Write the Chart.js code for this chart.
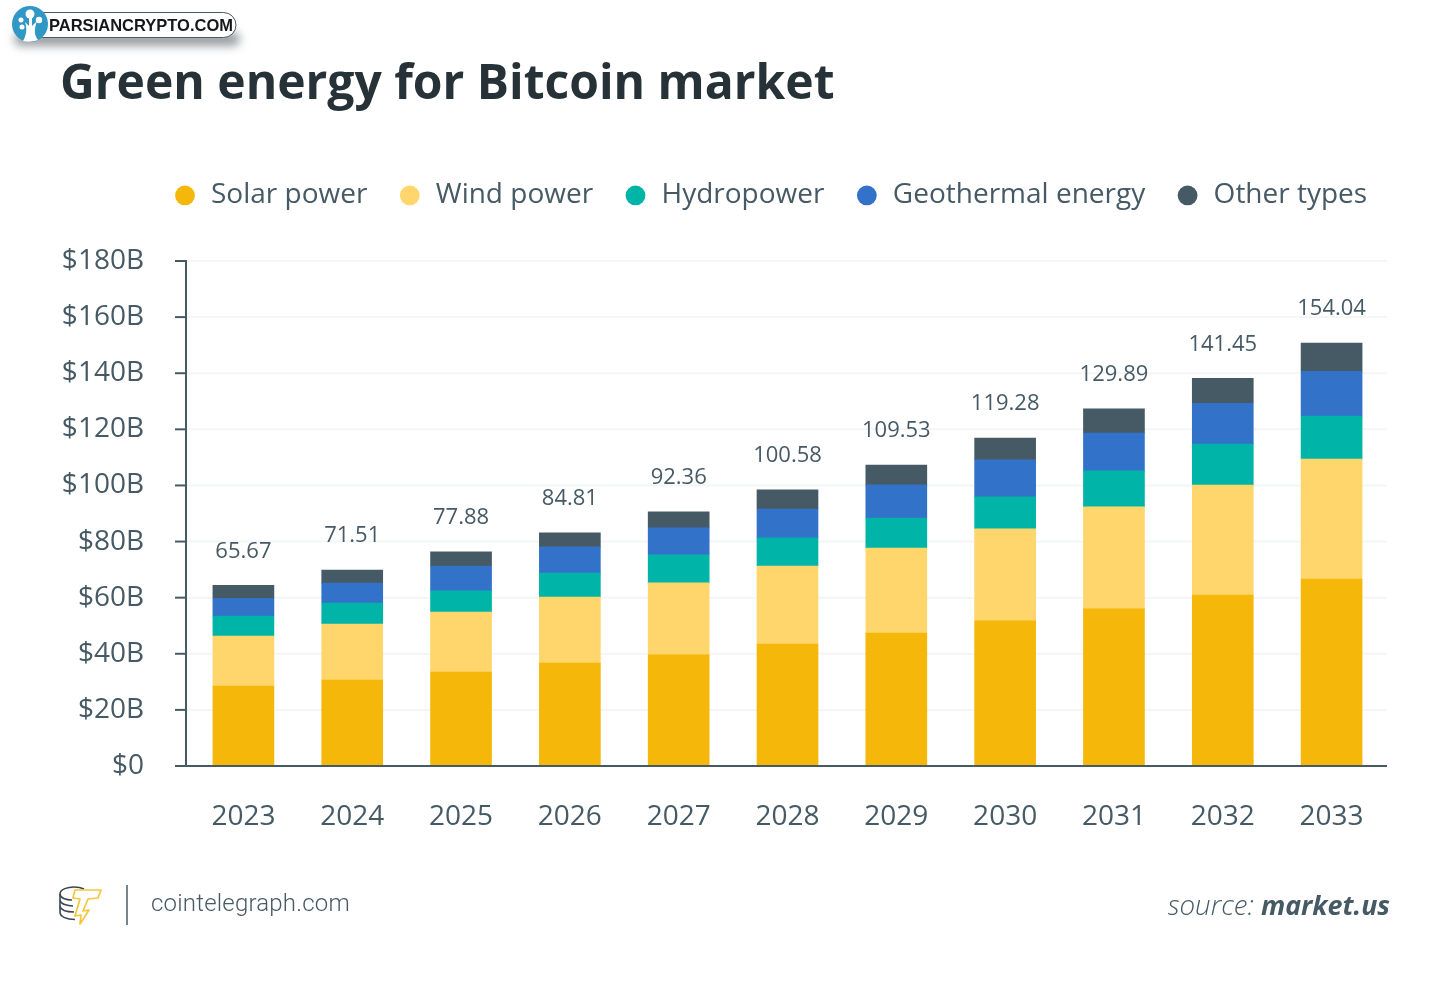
<!DOCTYPE html>
<html>
<head>
<meta charset="utf-8">
<title>Green energy for Bitcoin market</title>
<script src="https://cdn.jsdelivr.net/npm/chart.js@4/dist/chart.umd.min.js"></script>
<style>
  html, body { margin: 0; padding: 0; background: #fff; }
  #wrap { position: relative; width: 1450px; height: 985px; overflow: hidden; }
  #chart { position: absolute; left: 0; top: 0; }
  .note { position: absolute; white-space: nowrap; }
  #site { left: 151px; top: 889px; font: 300 24px Roboto, sans-serif; letter-spacing: 0.2px; color: #465a65; }
  #source { right: 60px; top: 885px; font: italic 300 27.7px "Open Sans", sans-serif; color: #465a65; }
  #source b { font-weight: 700; font-size: 26.8px; }
  #bar { position: absolute; left: 126px; top: 885px; width: 2px; height: 40px; background: #78858e; }
  svg { position: absolute; overflow: visible; }
</style>
</head>
<body>
<div id="wrap">
  <canvas id="chart" width="1450" height="985"></canvas>

  <!-- watermark at the top left -->
  <svg id="mark" style="left:0;top:0" width="250" height="60">
    <defs>
      <filter id="blur" x="-10%" y="-80%" width="120%" height="260%"><feGaussianBlur stdDeviation="5"/></filter>
    </defs>
    <rect x="14" y="32" width="226" height="14" rx="7" fill="#9a9ea2" filter="url(#blur)"/>
    <rect x="30" y="12.5" width="206" height="25" rx="12.5" fill="#fff" stroke="#4a5a66" stroke-width="1"/>
    <circle cx="30" cy="24" r="18" fill="#2f98c4"/>
    <path d="M23 41 C27 34 27 28 25 22 L29 26 L29 17 L32 17 L32 26 L37 21 C34 29 34 35 38 40 C33 42 27 42 23 41Z" fill="#fff"/>
    <circle cx="30" cy="14" r="4.5" fill="#fff"/>
    <circle cx="21" cy="20" r="2.5" fill="#fff"/>
    <circle cx="22" cy="27" r="2.5" fill="#fff"/>
    <circle cx="39" cy="20" r="3.2" fill="#fff"/>
    <text x="49" y="31" font-family="Liberation Sans" font-weight="700" font-size="16.5" textLength="184" lengthAdjust="spacingAndGlyphs" fill="#14181c">PARSIANCRYPTO.COM</text>
  </svg>

  <!-- cointelegraph footer -->
  <svg id="coins" style="left:58px;top:884px" width="48" height="44" fill="none">
    <g stroke="#3a4750" stroke-width="1.6">
      <path d="M2 10 C2 5 10 3 16 3 C20 3 24 4 26 5"/>
      <path d="M2 10 C2 14 8 16 14 16"/>
      <path d="M2 10 V28 C2 33 9 35.5 17 35.5"/>
      <path d="M2 16.5 C3 20 9 22 15 22"/>
      <path d="M2 22.5 C3 26 9 28 16 28"/>
    </g>
    <path d="M17 6 H43 L40 14 L30 15 L25 27 L31 26 L22 40 L23 31 L17 32 L22 15 L15 14Z" stroke="#f5c63c" stroke-width="1.7" stroke-linejoin="round" fill="#fff"/>
  </svg>
  <div id="bar"></div>
  <div id="site" class="note">cointelegraph.com</div>
  <div id="source" class="note">source: <b>market.us</b></div>
</div>

<script>
// Values, in $B
const years = ['2023', '2024', '2025', '2026', '2027', '2028', '2029', '2030', '2031', '2032', '2033'];
const solarPower = [28.5, 30.6, 33.5, 36.7, 39.6, 43.5, 47.4, 51.7, 56.0, 60.9, 66.6];
const windPower = [17.8, 20.0, 21.4, 23.5, 25.7, 27.8, 30.3, 32.8, 36.4, 39.2, 42.8];
const hydropower = [7.1, 7.5, 7.5, 8.6, 10.0, 10.0, 10.7, 11.4, 12.8, 14.6, 15.3];
const geothermal = [6.4, 7.1, 8.9, 9.3, 9.6, 10.3, 11.8, 13.2, 13.5, 14.6, 16.0];
const otherTypes = [4.6, 4.6, 5.0, 5.0, 5.7, 6.8, 7.1, 7.8, 8.6, 8.9, 10.0];
const totalLabels = ['65.67', '71.51', '77.88', '84.81', '92.36', '100.58', '109.53', '119.28', '129.89', '141.45', '154.04'];

const textColor = '#465a65';
const axisColor = '#465a65';
const gridColor = '#f4f5f5';
const fontName = '"Open Sans", sans-serif';

// Legend sits in its own spot, the chart area is fixed by the paddings below
const placeLegend = {
  id: 'placeLegend',
  afterLayout(chart) {
    chart.legend.left = 142.6;
    chart.legend.right = 1450;
    chart.legend.top = 151;
  }
};

// The axis lines start a few px left of the first category, so they are drawn here
const axisLines = {
  id: 'axisLines',
  beforeDatasetsDraw(chart) {
    const { ctx, chartArea, scales } = chart;
    const axisX = chartArea.left - 3;
    const endX = chartArea.right + 1;
    ctx.save();
    scales.y.ticks.forEach(tick => {
      const y = scales.y.getPixelForValue(tick.value);
      if (tick.value > 0) {
        ctx.strokeStyle = gridColor;
        ctx.lineWidth = 2;
        ctx.beginPath();
        ctx.moveTo(axisX, y);
        ctx.lineTo(endX, y);
        ctx.stroke();
      }
      ctx.strokeStyle = axisColor;
      ctx.lineWidth = 2;
      ctx.beginPath();
      ctx.moveTo(axisX - 11, y);
      ctx.lineTo(axisX, y);
      ctx.stroke();
    });
    ctx.restore();
  },
  afterDatasetsDraw(chart) {
    const { ctx, chartArea, scales } = chart;
    const axisX = chartArea.left - 3;
    ctx.save();
    ctx.strokeStyle = axisColor;
    ctx.lineWidth = 2;
    ctx.beginPath();
    ctx.moveTo(axisX, scales.y.getPixelForValue(180) - 1);
    ctx.lineTo(axisX, scales.y.getPixelForValue(0));
    ctx.lineTo(chartArea.right + 1, scales.y.getPixelForValue(0));
    ctx.stroke();
    ctx.restore();
  }
};

// Total above every stack
const totalsOnTop = {
  id: 'totalsOnTop',
  afterDatasetsDraw(chart) {
    const { ctx, scales } = chart;
    ctx.save();
    ctx.font = '22px ' + fontName;
    ctx.fillStyle = textColor;
    ctx.textAlign = 'center';
    ctx.textBaseline = 'middle';
    years.forEach((year, i) => {
      const sum = solarPower[i] + windPower[i] + hydropower[i] + geothermal[i] + otherTypes[i];
      ctx.fillText(totalLabels[i], scales.x.getPixelForValue(i), scales.y.getPixelForValue(sum) - 34);
    });
    ctx.restore();
  }
};

new Chart(document.getElementById('chart').getContext('2d'), {
  type: 'bar',
  data: {
    labels: years,
    datasets: [
      { label: 'Solar power', data: solarPower, backgroundColor: '#f5b70a' },
      { label: 'Wind power', data: windPower, backgroundColor: '#ffd66b' },
      { label: 'Hydropower', data: hydropower, backgroundColor: '#00b4a8' },
      { label: 'Geothermal energy', data: geothermal, backgroundColor: '#3272c9' },
      { label: 'Other types', data: otherTypes, backgroundColor: '#465a65' }
    ]
  },
  options: {
    responsive: false,
    animation: false,
    barThickness: 61,
    layout: { autoPadding: false, padding: { top: 57, left: 60, right: 64, bottom: 119 } },
    plugins: {
      tooltip: { enabled: false },
      title: {
        display: true,
        text: 'Green energy for Bitcoin market',
        align: 'start',
        color: '#263238',
        font: { family: fontName, size: 48, weight: '700' },
        padding: { top: 0, bottom: 78 }
      },
      legend: {
        position: 'top',
        align: 'start',
        labels: {
          usePointStyle: true,
          pointStyle: 'circle',
          boxWidth: 24,
          boxHeight: 14,
          padding: 30.4,
          color: textColor,
          font: { family: fontName, size: 28 }
        }
      }
    },
    scales: {
      x: {
        stacked: true,
        afterFit(scale) { scale.height = 100; },
        grid: { display: false, drawTicks: false },
        border: { display: false },
        ticks: { color: textColor, font: { family: fontName, size: 28 }, padding: 34, maxRotation: 0 }
      },
      y: {
        stacked: true,
        min: 0,
        max: 180,
        afterFit(scale) { scale.width = 129; },
        grid: { display: false, drawTicks: false },
        border: { display: false },
        ticks: {
          stepSize: 20,
          padding: 45,
          color: textColor,
          font: { family: fontName, size: 28 },
          callback: value => value === 0 ? '$0' : '$' + value + 'B'
        }
      }
    }
  },
  plugins: [placeLegend, axisLines, totalsOnTop]
});
</script>
</body>
</html>
